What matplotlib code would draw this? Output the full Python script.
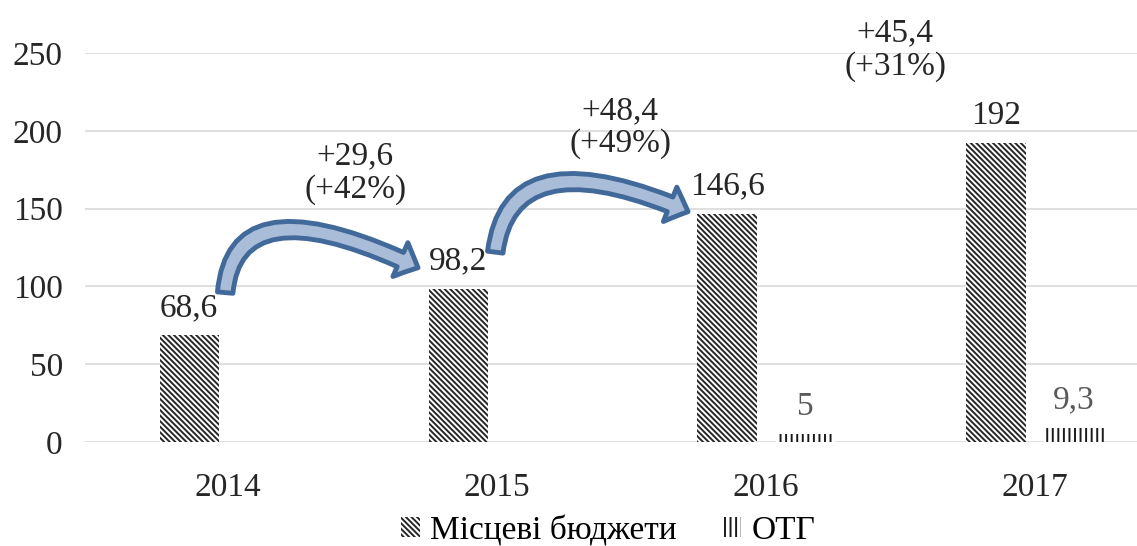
import numpy as np
import matplotlib.pyplot as plt
from matplotlib.patches import FancyArrowPatch
from matplotlib.path import Path

years = ['2014', '2015', '2016', '2017']
local_budgets = [68.6, 98.2, 146.6, 192]
otg = [0, 0, 5, 9.3]
local_labels = ['68,6', '98,2', '146,6', '192']
otg_labels = ['', '', '5', '9,3']
growth_labels = ['+29,6\n(+42%)', '+48,4\n(+49%)', '+45,4\n(+31%)']
series_names = ['Місцеві бюджети', 'ОТГ']

plt.rcParams['font.family'] = ['Liberation Serif', 'DejaVu Serif']
plt.rcParams['hatch.linewidth'] = 1.4

fig = plt.figure(figsize=(11.37, 5.46), dpi=100)
ax = fig.add_axes([0.0748, 0.1905, 0.9252, 0.7125])

x = np.arange(len(years))
w = 0.22
fs = 24
b1 = ax.bar(x - 0.145, local_budgets, w, color='white', edgecolor='#262626',
            linewidth=0, hatch='\\\\\\\\\\\\', label=series_names[0], zorder=2)
b2 = ax.bar(x + 0.145, otg, w, color='white', edgecolor='#1a1a1a',
            linewidth=0, hatch='|||', label=series_names[1], zorder=2)

for xi, v, t in zip(x, local_budgets, local_labels):
    ax.text(xi - 0.145, v + 8, t, ha='center', va='bottom', fontsize=fs,
            color='#262626')
for xi, v, t in zip(x, otg, otg_labels):
    if t:
        ax.text(xi + 0.145, v + 8, t, ha='center', va='bottom', fontsize=fs,
                color='#595959')

# curved growth arrows (quadratic curves between years)
curves = [
    [(-0.011, 96), (0.026, 168), (0.706, 112)],
    [(0.993, 122), (1.048, 197), (1.71, 148)],
]
for pts in curves:
    path = Path(pts, [Path.MOVETO, Path.CURVE3, Path.CURVE3])
    p = FancyArrowPatch(path=path,
                        arrowstyle='simple,head_width=1.9,head_length=1.0,tail_width=0.8',
                        mutation_scale=14, facecolor='#a9bdd8', edgecolor='#41699a',
                        linewidth=3.5, zorder=3, clip_on=False)
    ax.add_patch(p)

growth_pos = [(0.472, 173), (1.457, 202), (2.48, 252)]
for (gx, gy), t in zip(growth_pos, growth_labels):
    ax.text(gx, gy, t, ha='center', va='center', fontsize=fs, color='#262626',
            linespacing=1.1, clip_on=False)

ax.set_xlim(-0.532, 3.379)
ax.set_ylim(0, 250)
ax.set_yticks(np.arange(0, 251, 50))
ax.set_xticks(x)
ax.set_xticklabels(years)
ax.tick_params(length=0, labelsize=fs, colors='#262626')
ax.tick_params(axis='y', pad=16)
ax.tick_params(axis='x', pad=22)
ax.grid(axis='y', color='#d9d9d9', linewidth=1.2, zorder=0)
ax.set_axisbelow(True)
for s in ax.spines.values():
    s.set_visible(False)

fig.legend(handles=[b1, b2], labels=series_names, loc='lower center',
           bbox_to_anchor=(0.535, -0.055), ncol=2, frameon=False, fontsize=fs,
           handlelength=0.55, handleheight=0.55, handletextpad=0.3, columnspacing=1.4)

fig.savefig('out.png', dpi=100)
